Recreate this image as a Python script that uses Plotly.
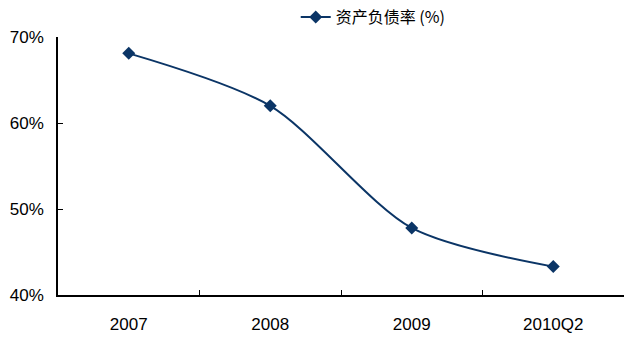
import plotly.graph_objects as go

categories = ["2007", "2008", "2009", "2010Q2"]
ratio = [68.1, 62.0, 47.8, 43.3]
series_name = "资产负债率 (%)"
y_ticks = [40, 50, 60, 70]
y_ticktext = ["40%", "50%", "60%", "70%"]

color = "#0B3566"

fig = go.Figure()
fig.add_trace(go.Scatter(
    x=categories, y=ratio, name=series_name,
    mode="lines+markers",
    line=dict(color=color, width=2, shape="spline", smoothing=0.8),
    marker=dict(symbol="diamond", size=10, color=color),
))

tick_font = dict(family="Liberation Sans, Arial", size=17, color="black")

fig.update_layout(
    width=624, height=338,
    margin=dict(l=58, r=0, t=35, b=43),
    paper_bgcolor="white", plot_bgcolor="white",
    font=dict(family="Liberation Sans, Arial", size=17, color="black"),
    showlegend=True,
    legend=dict(
        orientation="h", x=0.42, y=1.077, xanchor="left", yanchor="middle",
        font=dict(family="Noto Sans CJK SC", size=16, color="black"),
        bgcolor="rgba(0,0,0,0)",
    ),
    xaxis=dict(
        type="category", range=[-0.5, 3.5],
        showline=True, linecolor="black", linewidth=1.5,
        ticks="inside", tickson="boundaries", ticklen=5, tickcolor="black",
        showgrid=False, zeroline=False,
        tickfont=tick_font,
        ticklabelstandoff=13,
    ),
    yaxis=dict(
        range=[40, 70], tickmode="array", tickvals=y_ticks, ticktext=y_ticktext,
        showline=True, linecolor="black", linewidth=1.5,
        ticks="inside", ticklen=5, tickcolor="black",
        showgrid=False, zeroline=False,
        tickfont=tick_font,
        ticklabelstandoff=9,
    ),
)

fig.write_html("out.html")
